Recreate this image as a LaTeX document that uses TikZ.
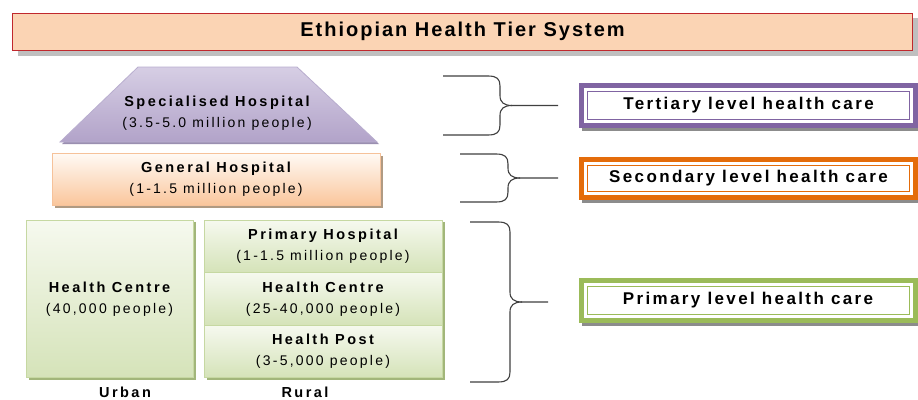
\documentclass[tikz,border=0pt]{standalone}
\usepackage{fontspec}
\setmainfont{Liberation Sans}
\newfontfamily\titlefont[LetterSpace=10]{Liberation Sans}
\newfontfamily\boldsp[LetterSpace=17]{Liberation Sans}
\newfontfamily\regsp[LetterSpace=16]{Liberation Sans}
\newfontfamily\levelsp[LetterSpace=14]{Liberation Sans}
\usetikzlibrary{backgrounds}
\definecolor{titlefill}{HTML}{FBD4B4}
\definecolor{titledraw}{HTML}{C0282D}
\definecolor{titleshadow}{HTML}{BFBFBF}
\definecolor{lavtop}{HTML}{D6CEE4}
\definecolor{lavbot}{HTML}{B2A3C9}
\definecolor{lavdraw}{HTML}{B9AECF}
\definecolor{lavshadow}{HTML}{9A8FB0}
\definecolor{peachtop}{HTML}{FFFAF5}
\definecolor{peachbot}{HTML}{FAC69C}
\definecolor{peachdraw}{HTML}{F6C29A}
\definecolor{peachshadow}{HTML}{B09A82}
\definecolor{greentop}{HTML}{F6F9EF}
\definecolor{greenbot}{HTML}{D5E3B9}
\definecolor{greendraw}{HTML}{C6D8A2}
\definecolor{greenshadow}{HTML}{A2B67A}
\definecolor{lvpurple}{HTML}{8064A2}
\definecolor{lvorange}{HTML}{E46C0A}
\definecolor{lvgreen}{HTML}{9BBB59}
\definecolor{lvshadow}{HTML}{8C8C8C}
\definecolor{bracegray}{HTML}{404040}
\newcommand{\twoline}[2]{\raisebox{-2pt}{\begin{tabular}{@{}c@{}}{\boldsp\bfseries #1}\\[1pt]{\regsp\fontsize{14}{20}\selectfont #2}\end{tabular}}}
\newcommand{\drawbrace}[5]{%
  \draw[brace] (#1,#2) -- ({#4-12},#2) .. controls ({#4-3},#2) and (#4,{#2+3}) .. (#4,{#2+10})
    -- (#4,{(#2+#3)/2-10}) .. controls (#4,{(#2+#3)/2-3}) and ({#4+4},{(#2+#3)/2}) .. ({#4+12},{(#2+#3)/2})
    -- (#5,{(#2+#3)/2});
  \draw[brace] (#1,#3) -- ({#4-12},#3) .. controls ({#4-3},#3) and (#4,{#3-3}) .. (#4,{#3-10})
    -- (#4,{(#2+#3)/2+10}) .. controls (#4,{(#2+#3)/2+3}) and ({#4+4},{(#2+#3)/2}) .. ({#4+12},{(#2+#3)/2});}
\begin{document}
\begin{tikzpicture}[x=1pt,y=-1pt,
  txt/.style={inner sep=0pt, align=center, font=\fontsize{14.5}{20}\selectfont},
  greenbox/.style={txt, draw=greendraw, line width=0.8pt, top color=greentop, bottom color=greenbot},
  levelbox/.style={draw=#1, line width=5pt, fill=white, inner sep=0pt, minimum width=334pt,
    font=\levelsp\bfseries\fontsize{17}{18}\selectfont,
    path picture={\draw[#1, line width=1pt] ([shift={(6,6)}]path picture bounding box.north west)
      rectangle ([shift={(-6,-6)}]path picture bounding box.south east);}},
  brace/.style={draw=bracegray, line width=1.1pt}
]
\useasboundingbox (0,0) rectangle (918,399);

% title
\node[draw=titledraw, line width=1pt, fill=titlefill, minimum width=900pt, minimum height=37pt,
  font=\titlefont\bfseries\fontsize{20}{22}\selectfont] (title) at (462.5,31.5) {Ethiopian Health Tier System};

% specialised hospital trapezoid
\fill[lavshadow] (140,69) -- (299,69) -- (379,144) -- (62,144) -- cycle;
\path[draw=lavdraw, line width=0.8pt, top color=lavtop, bottom color=lavbot]
  (138,67) -- (297,67) -- (377,142) -- (60,142) -- cycle;
\node[txt] (sh) at (217,113) {\twoline{Specialised Hospital}{(3.5-5.0 million people)}};

% general hospital
\node[txt, draw=peachdraw, line width=0.8pt, top color=peachtop, bottom color=peachbot,
  minimum width=328pt, minimum height=52pt] (gh) at (216,179) {\twoline{General Hospital}{(1-1.5 million people)}};

% primary level boxes
\node[greenbox, minimum width=167pt, minimum height=157pt] (uhc) at (109.5,298.5) {\twoline{Health Centre}{(40,000 people)}};
\node[greenbox, minimum width=238pt, minimum height=52pt] (ph) at (323,246) {\twoline{Primary Hospital}{(1-1.5 million people)}};
\node[greenbox, minimum width=238pt, minimum height=53pt] (rhc) at (323,298.5) {\twoline{Health Centre}{(25-40,000 people)}};
\node[greenbox, minimum width=238pt, minimum height=52pt] (hp) at (323,351) {\twoline{Health Post}{(3-5,000 people)}};

\node[font=\boldsp\bfseries\fontsize{14.5}{16}\selectfont] (urban) at (125,392) {Urban};
\node[font=\boldsp\bfseries\fontsize{14.5}{16}\selectfont] (rural) at (305,392) {Rural};

% level boxes
\node[levelbox=lvpurple, minimum height=40pt] (ter) at (748.5,105.5) {Tertiary level health care};
\node[levelbox=lvorange, minimum height=38pt] (sec) at (748.5,178.5) {Secondary level health care};
\node[levelbox=lvgreen, minimum height=40pt] (pri) at (748,300.5) {Primary level health care};

% background and shadows
\begin{pgfonlayer}{background}
  \fill[white] (0,0) rectangle (918,399);
  \fill[titleshadow] ([shift={(6,5)}]title.north west) rectangle ([shift={(6,5)}]title.south east);
  \fill[peachshadow] ([shift={(3,3)}]gh.north west) rectangle ([shift={(3,3)}]gh.south east);
  \foreach \n in {uhc,ph,rhc,hp}
    \fill[greenshadow] ([shift={(3,2.5)}]\n.north west) rectangle ([shift={(3,2.5)}]\n.south east);
  \foreach \n in {ter,sec,pri}
    \fill[lvshadow] ([shift={(3,3)}]\n.north west) rectangle ([shift={(3,3)}]\n.south east);
\end{pgfonlayer}

% braces
\drawbrace{443}{76}{135}{500}{558}
\drawbrace{460}{154}{202}{508}{558}
\drawbrace{470}{222}{382}{510}{548}
\end{tikzpicture}
\end{document}
